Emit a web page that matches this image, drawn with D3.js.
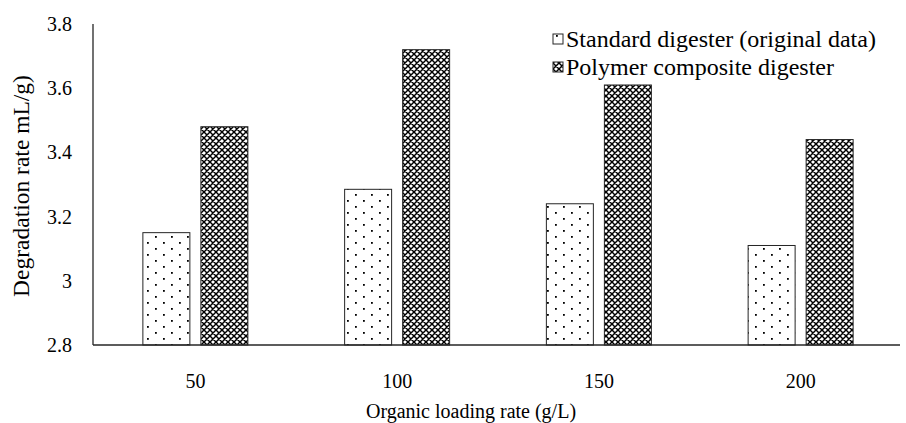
<!DOCTYPE html>
<html lang="en">
<head>
    <meta charset="UTF-8">
    <title>Degradation rate</title>
    <script src="https://d3js.org/d3.v7.min.js"></script>
    <style>
        body { margin: 0; background: #fff; }
        svg text { font-family: "Liberation Serif", "Times New Roman", serif; fill: #000; }
        .tick-label { font-size: 20px; }
        .axis-label { font-size: 20px; }
        .axis-label.y-title { font-size: 23.5px; }
        .legend-text { font-size: 24px; }
    </style>
</head>
<body>
    <svg width="906" height="423"></svg>

    <script>
        // Data
        const categories = ["50", "100", "150", "200"];
        const seriesNames = ["Standard digester (original data)", "Polymer composite digester"];
        const standard = [3.15, 3.285, 3.24, 3.11];
        const polymer = [3.48, 3.72, 3.61, 3.44];
        const yTicks = [2.8, 3, 3.2, 3.4, 3.6, 3.8];

        const svg = d3.select("svg");
        const plot = { left: 93, right: 900, top: 24, bottom: 345 };

        // Patterns
        const defs = svg.append("defs");
        const dots = defs.append("pattern")
            .attr("id", "dots")
            .attr("patternUnits", "userSpaceOnUse")
            .attr("width", 16).attr("height", 12);
        dots.append("rect").attr("width", 16).attr("height", 12).attr("fill", "#fff");
        dots.append("rect").attr("x", 3).attr("y", 2).attr("width", 1.8).attr("height", 1.8).attr("fill", "#000");
        dots.append("rect").attr("x", 11).attr("y", 8).attr("width", 1.8).attr("height", 1.8).attr("fill", "#000");

        const hatch = defs.append("pattern")
            .attr("id", "hatch")
            .attr("patternUnits", "userSpaceOnUse")
            .attr("width", 6).attr("height", 6);
        hatch.append("rect").attr("width", 6).attr("height", 6).attr("fill", "#fff");
        hatch.append("path")
            .attr("d", "M0,0L6,6M6,0L0,6M-1,5L1,7M5,-1L7,1M-1,1L1,-1M5,7L7,5")
            .attr("stroke", "#000")
            .attr("stroke-width", 1.45);

        // Scales
        const x0 = d3.scaleBand().domain(categories).range([plot.left, plot.right]);
        const x1 = d3.scaleBand().domain([0, 1]).range([0, 105]).paddingInner(0.19);
        const y = d3.scaleLinear().domain([2.8, 3.8]).range([plot.bottom, plot.top]);

        const groupOffset = (x0.bandwidth() - 105) / 2 + 1.5;
        const fills = ["url(#dots)", "url(#hatch)"];
        const series = [standard, polymer];

        // Bars
        series.forEach((vals, si) => {
            svg.append("g").selectAll("rect")
                .data(vals)
                .enter().append("rect")
                .attr("x", (d, i) => x0(categories[i]) + groupOffset + x1(si))
                .attr("y", d => y(d))
                .attr("width", x1.bandwidth())
                .attr("height", d => y(2.8) - y(d))
                .attr("fill", fills[si])
                .attr("stroke", "#262626")
                .attr("stroke-width", 1);
        });

        // Axes lines
        svg.append("line")
            .attr("x1", plot.left).attr("x2", plot.left)
            .attr("y1", plot.top).attr("y2", plot.bottom)
            .attr("stroke", "#262626").attr("stroke-width", 1.3);
        svg.append("line")
            .attr("x1", plot.left).attr("x2", plot.right)
            .attr("y1", plot.bottom).attr("y2", plot.bottom)
            .attr("stroke", "#262626").attr("stroke-width", 1.3);

        // Y tick labels
        svg.append("g").selectAll("text")
            .data(yTicks)
            .enter().append("text")
            .attr("class", "tick-label")
            .attr("x", 72)
            .attr("y", d => y(d))
            .attr("dy", "0.35em")
            .attr("text-anchor", "end")
            .text(d => d3.format("")(d));

        // X tick labels
        svg.append("g").selectAll("text")
            .data(categories)
            .enter().append("text")
            .attr("class", "tick-label")
            .attr("x", d => x0(d) + x0.bandwidth() / 2 + 1.5)
            .attr("y", 388)
            .attr("text-anchor", "middle")
            .text(d => d);

        // Axis titles
        svg.append("text")
            .attr("class", "axis-label")
            .attr("x", 471)
            .attr("y", 418)
            .attr("text-anchor", "middle")
            .text("Organic loading rate (g/L)");

        svg.append("text")
            .attr("class", "axis-label y-title")
            .attr("transform", "translate(29,186) rotate(-90)")
            .attr("text-anchor", "middle")
            .text("Degradation rate mL/g)");

        // Legend
        const legend = svg.append("g").attr("transform", "translate(553,33)");
        seriesNames.forEach((name, i) => {
            legend.append("rect")
                .attr("x", 0).attr("y", i * 28 + 1)
                .attr("width", 10).attr("height", 10)
                .attr("fill", fills[i])
                .attr("stroke", "#262626").attr("stroke-width", 1);
            legend.append("text")
                .attr("class", "legend-text")
                .attr("x", 13).attr("y", i * 28 + 14)
                .text(name);
        });
    </script>
</body>
</html>
